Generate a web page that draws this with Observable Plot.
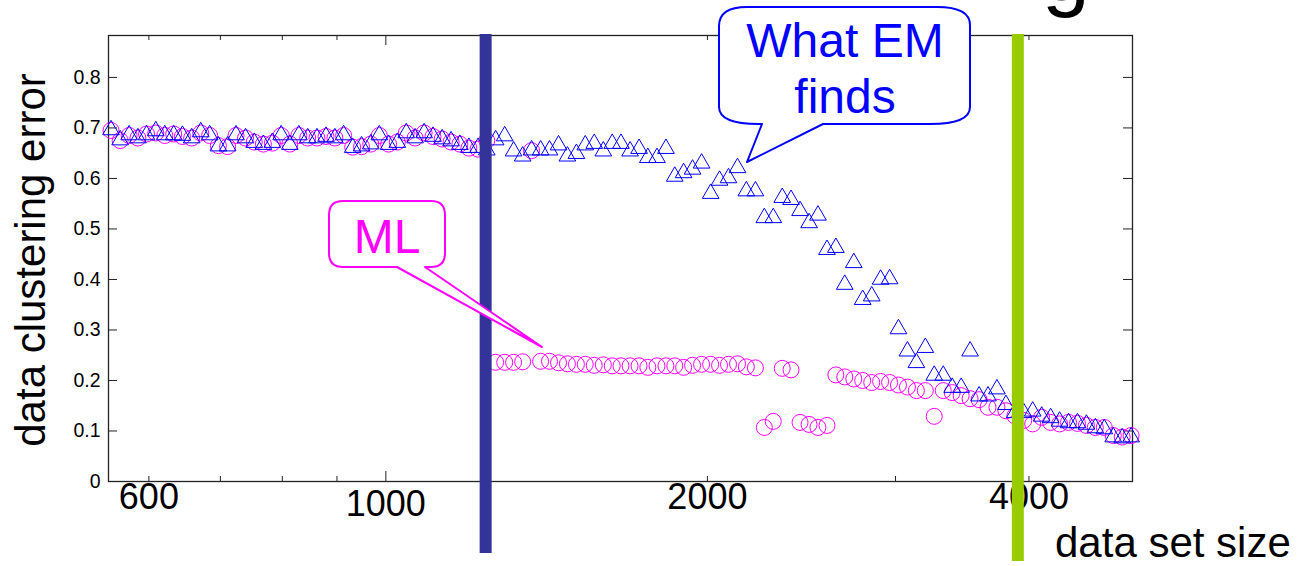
<!DOCTYPE html>
<html><head><meta charset="utf-8">
<script src="https://cdn.jsdelivr.net/npm/d3@7"></script>
<script src="https://cdn.jsdelivr.net/npm/@observablehq/plot@0.6"></script>
<style>html,body{margin:0;padding:0;background:#fff;} svg{display:block}</style>
</head><body><div id="chart"></div>
<script>
// data set sizes (x)
const sizes = [553, 564, 575, 586, 597, 609, 621, 633, 645, 658,
 671, 684, 697, 711, 724, 739, 753, 768, 783, 798,
 813, 829, 845, 862, 879, 896, 913, 931, 949, 968,
 986, 1006, 1025, 1045, 1065, 1086, 1107, 1129, 1151, 1173,
 1196, 1220, 1243, 1267, 1292, 1317, 1343, 1369, 1396, 1423,
 1451, 1479, 1508, 1537, 1567, 1598, 1629, 1660, 1693, 1726,
 1759, 1794, 1829, 1864, 1900, 1937, 1975, 2014, 2053, 2093,
 2134, 2175, 2218, 2261, 2305, 2350, 2395, 2442, 2490, 2538,
 2588, 2638, 2689, 2742, 2795, 2850, 2905, 2962, 3019, 3078,
 3138, 3199, 3261, 3325, 3390, 3456, 3523, 3592, 3662, 3733,
 3806, 3880, 3955, 4032, 4111, 4191, 4273, 4356, 4441, 4527,
 4615, 4705, 4797, 4890, 4985];
// "What EM finds" (triangles)
const emError = [0.700, 0.680, 0.690, 0.684, 0.690, 0.698, 0.690, 0.690, 0.689, 0.684,
 0.696, 0.690, 0.668, 0.668, 0.690, 0.684, 0.675, 0.671, 0.675, 0.690,
 0.671, 0.690, 0.684, 0.684, 0.687, 0.684, 0.690, 0.665, 0.668, 0.672,
 0.690, 0.671, 0.675, 0.694, 0.684, 0.694, 0.687, 0.682, 0.678, 0.671,
 0.665, 0.665, 0.660, 0.680, 0.688, 0.658, 0.648, 0.660, 0.660, 0.660,
 0.670, 0.648, 0.653, 0.670, 0.673, 0.658, 0.673, 0.673, 0.658, 0.663,
 0.645, 0.645, 0.663, 0.608, 0.615, 0.622, 0.634, 0.574, 0.600, 0.605,
 0.625, 0.579, 0.579, 0.526, 0.526, 0.566, 0.562, 0.540, 0.516, 0.531,
 0.463, 0.467, 0.394, 0.437, 0.364, 0.371, 0.404, 0.405, 0.306, 0.262,
 0.239, 0.269, 0.214, 0.214, 0.190, 0.190, 0.262, 0.173, 0.173, 0.187,
 0.156, 0.140, 0.140, 0.143, 0.133, 0.130, 0.123, 0.120, 0.120, 0.117,
 0.110, 0.108, 0.092, 0.090, 0.092];
// ML (circles)
const mlError = [0.695, 0.675, 0.685, 0.680, 0.688, 0.690, 0.685, 0.688, 0.683, 0.680,
 0.690, 0.685, 0.665, 0.663, 0.685, 0.680, 0.672, 0.668, 0.670, 0.685,
 0.668, 0.685, 0.680, 0.680, 0.683, 0.680, 0.685, 0.662, 0.663, 0.668,
 0.685, 0.668, 0.672, 0.690, 0.680, 0.690, 0.683, 0.678, 0.672, 0.668,
 0.660, 0.658, 0.675, 0.236, 0.236, 0.236, 0.237, 0.655, 0.238, 0.238,
 0.235, 0.233, 0.232, 0.232, 0.230, 0.231, 0.229, 0.229, 0.229, 0.229,
 0.226, 0.229, 0.229, 0.229, 0.226, 0.230, 0.232, 0.232, 0.230, 0.232,
 0.233, 0.227, 0.225, 0.107, 0.119, 0.224, 0.221, 0.117, 0.113, 0.107,
 0.111, 0.211, 0.207, 0.203, 0.200, 0.196, 0.198, 0.196, 0.191, 0.187,
 0.180, 0.180, 0.129, 0.180, 0.176, 0.170, 0.164, 0.162, 0.147, 0.147,
 0.140, 0.130, 0.121, 0.114, 0.127, 0.117, 0.114, 0.117, 0.115, 0.111,
 0.107, 0.107, 0.091, 0.088, 0.091];

const yTicks = [0, 0.1, 0.2, 0.3, 0.4, 0.5, 0.6, 0.7, 0.8];
const yTickLabels = ["0", "0.1", "0.2", "0.3", "0.4", "0.5", "0.6", "0.7", "0.8"];
const xMinorTicks = [600, 700, 800, 900, 2000, 3000, 4000];
const xMajorTicks = [1000];
const xTickValues = [600, 2000, 4000];
const xTickLabels = ["600", "2000", "4000"];
const xLowTickValues = [1000];
const xLowTickLabels = ["1000"];
const markerSizes = [1240, 3905];   // the two vertical bars
const markerColors = ["#333399", "#99cc00"];

const em = sizes.map((s, i) => ({size: s, err: emError[i]}));
const ml = sizes.map((s, i) => ({size: s, err: mlError[i]}));

const W = 1297, H = 566, mL = 108, mR = 165, mT = 35, mB = 85;
const pw = W - mL - mR, ph = H - mT - mB;
const FONT = "'Liberation Sans', Arial, Helvetica, sans-serif";

const chart = Plot.plot({
  width: W, height: H,
  marginLeft: mL, marginRight: mR, marginTop: mT, marginBottom: mB,
  style: {fontFamily: FONT, background: "#fff", overflow: "visible"},
  x: {type: "log", domain: [550, 5000], axis: null},
  y: {domain: [0, 0.883], axis: null},
  marks: [
    Plot.frame({stroke: "#222", strokeWidth: 1.3}),
    Plot.tickY(yTicks, {y: d => d, insetRight: pw - 9, stroke: "#222"}),
    Plot.tickY(yTicks, {y: d => d, insetLeft: pw - 9, stroke: "#222"}),
    Plot.tickX(xMinorTicks, {x: d => d, insetTop: ph - 5, stroke: "#222"}),
    Plot.tickX(xMinorTicks, {x: d => d, insetBottom: ph - 5, stroke: "#222"}),
    Plot.tickX(xMajorTicks, {x: d => d, insetTop: ph - 10, stroke: "#222"}),
    Plot.tickX(xMajorTicks, {x: d => d, insetBottom: ph - 10, stroke: "#222"}),
    Plot.text(yTicks, {y: d => d, text: (d, i) => yTickLabels[i], frameAnchor: "left", dx: -8, textAnchor: "end", fontSize: 19.5, fill: "#000"}),
    Plot.text(xTickValues, {x: d => d, text: (d, i) => xTickLabels[i], frameAnchor: "bottom", dy: 27, fontSize: 36, fill: "#000"}),
    Plot.text(xLowTickValues, {x: d => d, text: (d, i) => xLowTickLabels[i], frameAnchor: "bottom", dy: 34, fontSize: 36, fill: "#000"}),
    Plot.dot(ml, {x: "size", y: "err", r: 8, stroke: "#ff00ff", fill: "none", strokeWidth: 1}),
    Plot.dot(em, {x: "size", y: "err", symbol: "triangle", r: 6.2, stroke: "#0000ff", fill: "none", strokeWidth: 1, dy: 2}),
    Plot.ruleX([markerSizes[0]], {x: d => d, y1: -0.1426, y2: 0.885, stroke: markerColors[0], strokeWidth: 12}),
    Plot.ruleX([markerSizes[1]], {x: d => d, y1: -0.1584, y2: 0.885, stroke: markerColors[1], strokeWidth: 12})
  ]
});

const svg = d3.select(chart);
// axis titles
svg.append("text").attr("transform", "translate(45,260) rotate(-90)")
  .attr("text-anchor", "middle").attr("font-size", 42).attr("fill", "#000")
  .attr("font-family", FONT).text("data clustering error");
svg.append("text").attr("x", 1055).attr("y", 557).attr("text-anchor", "start")
  .attr("font-size", 42).attr("fill", "#000").attr("font-family", FONT).text("data set size");
// cut-off slide title glyph (only its descender shows, as in the source)
svg.append("text").attr("x", 1042).attr("y", 0).attr("text-anchor", "start")
  .attr("font-size", 86).attr("fill", "#000").attr("font-family", FONT).text("g");

// ML callout
svg.append("path")
  .attr("d", "M343,201 H431 Q445,201 445,215 V253 Q445,267 431,267 H425 L542,347 L397,267 H343 Q329,267 329,253 V215 Q329,201 343,201 Z")
  .attr("fill", "#fff").attr("stroke", "#ff00ff").attr("stroke-width", 2).attr("stroke-linejoin", "round");
svg.append("text").attr("x", 387).attr("y", 253).attr("text-anchor", "middle")
  .attr("font-size", 48).attr("fill", "#ff00ff").attr("font-family", FONT).text("ML");

// EM callout
svg.append("path")
  .attr("d", "M747,7 H937 Q970,7 970,25 V107 Q970,124 930,124 H823 L747,162 L762,124 H759 Q719,124 719,107 V26 Q719,7 747,7 Z")
  .attr("fill", "#fff").attr("stroke", "#0000ff").attr("stroke-width", 2).attr("stroke-linejoin", "round");
svg.append("text").attr("x", 845).attr("y", 57).attr("text-anchor", "middle")
  .attr("font-size", 48).attr("fill", "#0000ff").attr("font-family", FONT).text("What EM");
svg.append("text").attr("x", 845).attr("y", 113).attr("text-anchor", "middle")
  .attr("font-size", 48).attr("fill", "#0000ff").attr("font-family", FONT).text("finds");

document.getElementById("chart").appendChild(chart);
</script>
</body></html>
